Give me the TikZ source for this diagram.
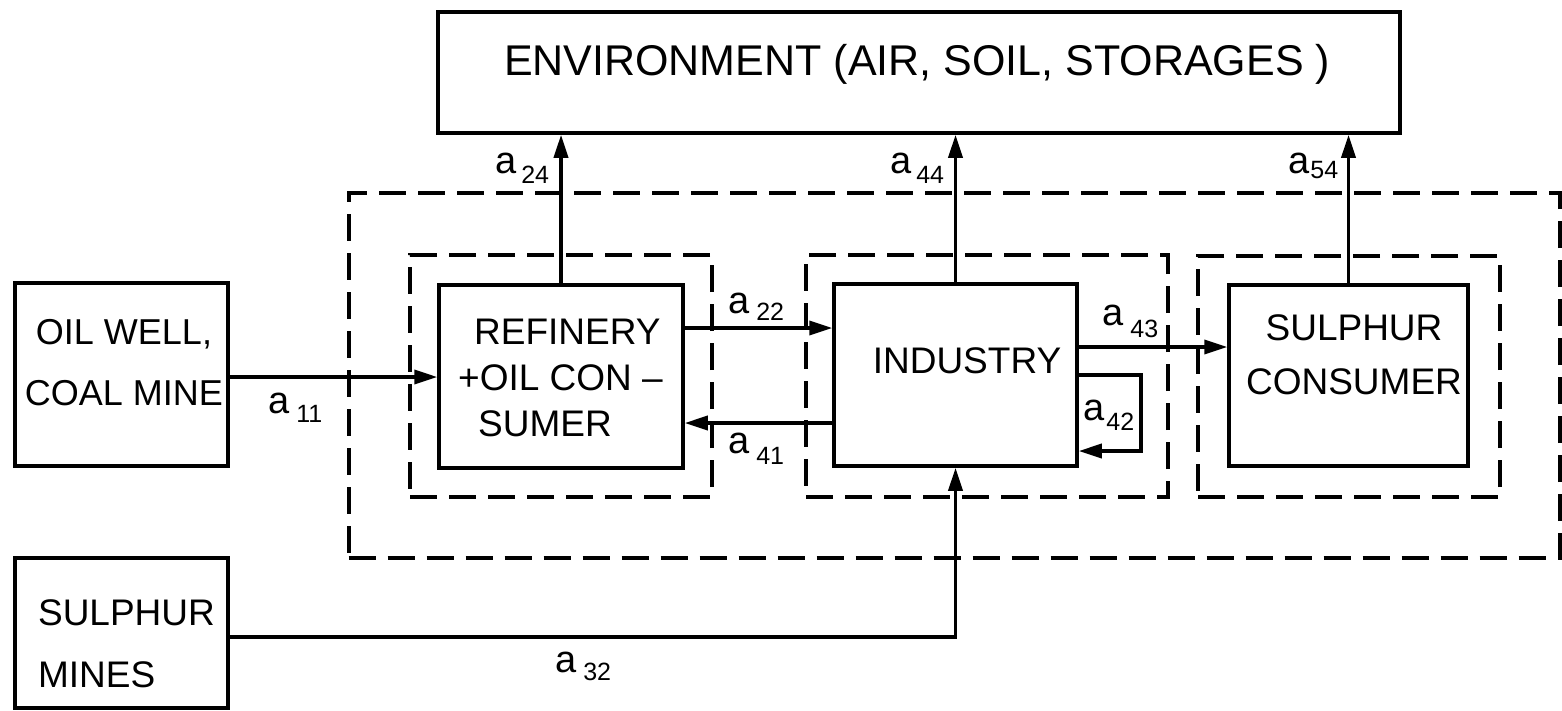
\documentclass[tikz,border=0pt]{standalone}
\usepackage{fontspec}
\setmainfont{Liberation Sans}
\usetikzlibrary{arrows.meta}
\newcommand{\coeff}[3]{a\hspace{#1}\raisebox{#2}{\fontsize{25}{25}\selectfont #3}}
\begin{document}
\begin{tikzpicture}[x=1pt,y=-1pt,
  box/.style={draw, line width=3.5pt, rectangle, inner sep=0pt},
  grp/.style={draw, line width=4pt, dash pattern=on 27pt off 12pt, rectangle, inner sep=0pt},
  txt/.style={inner sep=0pt, font=\fontsize{37}{46}\selectfont},
  lbl/.style={inner sep=0pt, anchor=base west, font=\fontsize{38}{38}\selectfont},
  arr/.style={line width=3.5pt, -{Triangle[length=23pt,width=14pt]}}]
\useasboundingbox (0,0) rectangle (1562,710);

% environment
\node[box, minimum width=962pt, minimum height=121pt] (env) at (919,72.5) {};
\node[txt, font=\fontsize{43}{43}\selectfont, anchor=base] (envt) at (917,75) {ENVIRONMENT (AIR, SOIL, STORAGES )};

% dashed groups
\node[grp, minimum width=1211pt, minimum height=365pt] (sys) at (954,375.5) {};
\node[grp, minimum width=302pt, minimum height=242pt] (g1) at (561,376) {};
\node[grp, minimum width=362pt, minimum height=242pt] (g2) at (987,376) {};
\node[grp, minimum width=302pt, minimum height=241pt] (g3) at (1349,376.5) {};

% boxes
\node[box, minimum width=213pt, minimum height=183pt] (oil) at (121.5,374.5) {};
\node[txt, align=center, font=\fontsize{36}{61}\selectfont] (oilt) at (124,363) {OIL WELL,\\COAL MINE};

\node[box, minimum width=244pt, minimum height=183pt] (ref) at (561,376.5) {};
\node[txt, align=left] (reft) at (560.5,377.75) {\hspace*{16pt}REFINERY\\+OIL CON –\\\hspace*{20pt}SUMER};

\node[box, minimum width=243pt, minimum height=182pt] (ind) at (955.5,375) {};
\node[txt, anchor=base] (indt) at (967,373) {INDUSTRY};

\node[box, minimum width=239pt, minimum height=181pt] (cons) at (1348.5,375.5) {};
\node[txt, align=center, font=\fontsize{37}{54}\selectfont] (const) at (1354,354.75) {SULPHUR\\CONSUMER};

\node[box, minimum width=213pt, minimum height=150pt] (mines) at (121.5,633) {};
\node[txt, align=left, font=\fontsize{37}{62}\selectfont] (minest) at (126.5,643.75) {SULPHUR\\MINES};

% connectors
\draw[arr] (oil.east |- 0,377) -- (ref.west |- 0,377);
\draw[arr] (ref.east |- 0,328) -- (ind.west |- 0,328);
\draw[arr] (ind.west |- 0,423) -- (ref.east |- 0,423);
\draw[arr] (ind.east |- 0,347) -- (cons.west |- 0,347);
\draw[arr] (ind.east |- 0,375) -- ++(62,0) |- (ind.east |- 0,451);
\draw[arr] (mines.east |- 0,637) -| (ind.south);
\draw[arr] (ref.north) -- (ref.north |- env.south);
\draw[arr] (ind.north) -- (ind.north |- env.south);
\draw[arr] (cons.north) -- (cons.north |- env.south);

% labels
\node[lbl] (l11) at (268,413) {\coeff{7pt}{-9pt}{11}};
\node[lbl] (l22) at (728,313) {\coeff{7pt}{-7pt}{22}};
\node[lbl] (l41) at (728,453) {\coeff{7pt}{-11pt}{41}};
\node[lbl] (l43) at (1102,325) {\coeff{7pt}{-12pt}{43}};
\node[lbl] (l42) at (1083,420) {\coeff{2pt}{-10pt}{42}};
\node[lbl] (l44) at (890,173) {\coeff{5pt}{-10pt}{44}};
\node[lbl] (l24) at (495,173) {\coeff{5pt}{-10pt}{24}};
\node[lbl] (l54) at (1288,173) {\coeff{1pt}{-5pt}{54}};
\node[lbl] (l32) at (555,672) {\coeff{7pt}{-8pt}{32}};
\end{tikzpicture}
\end{document}
